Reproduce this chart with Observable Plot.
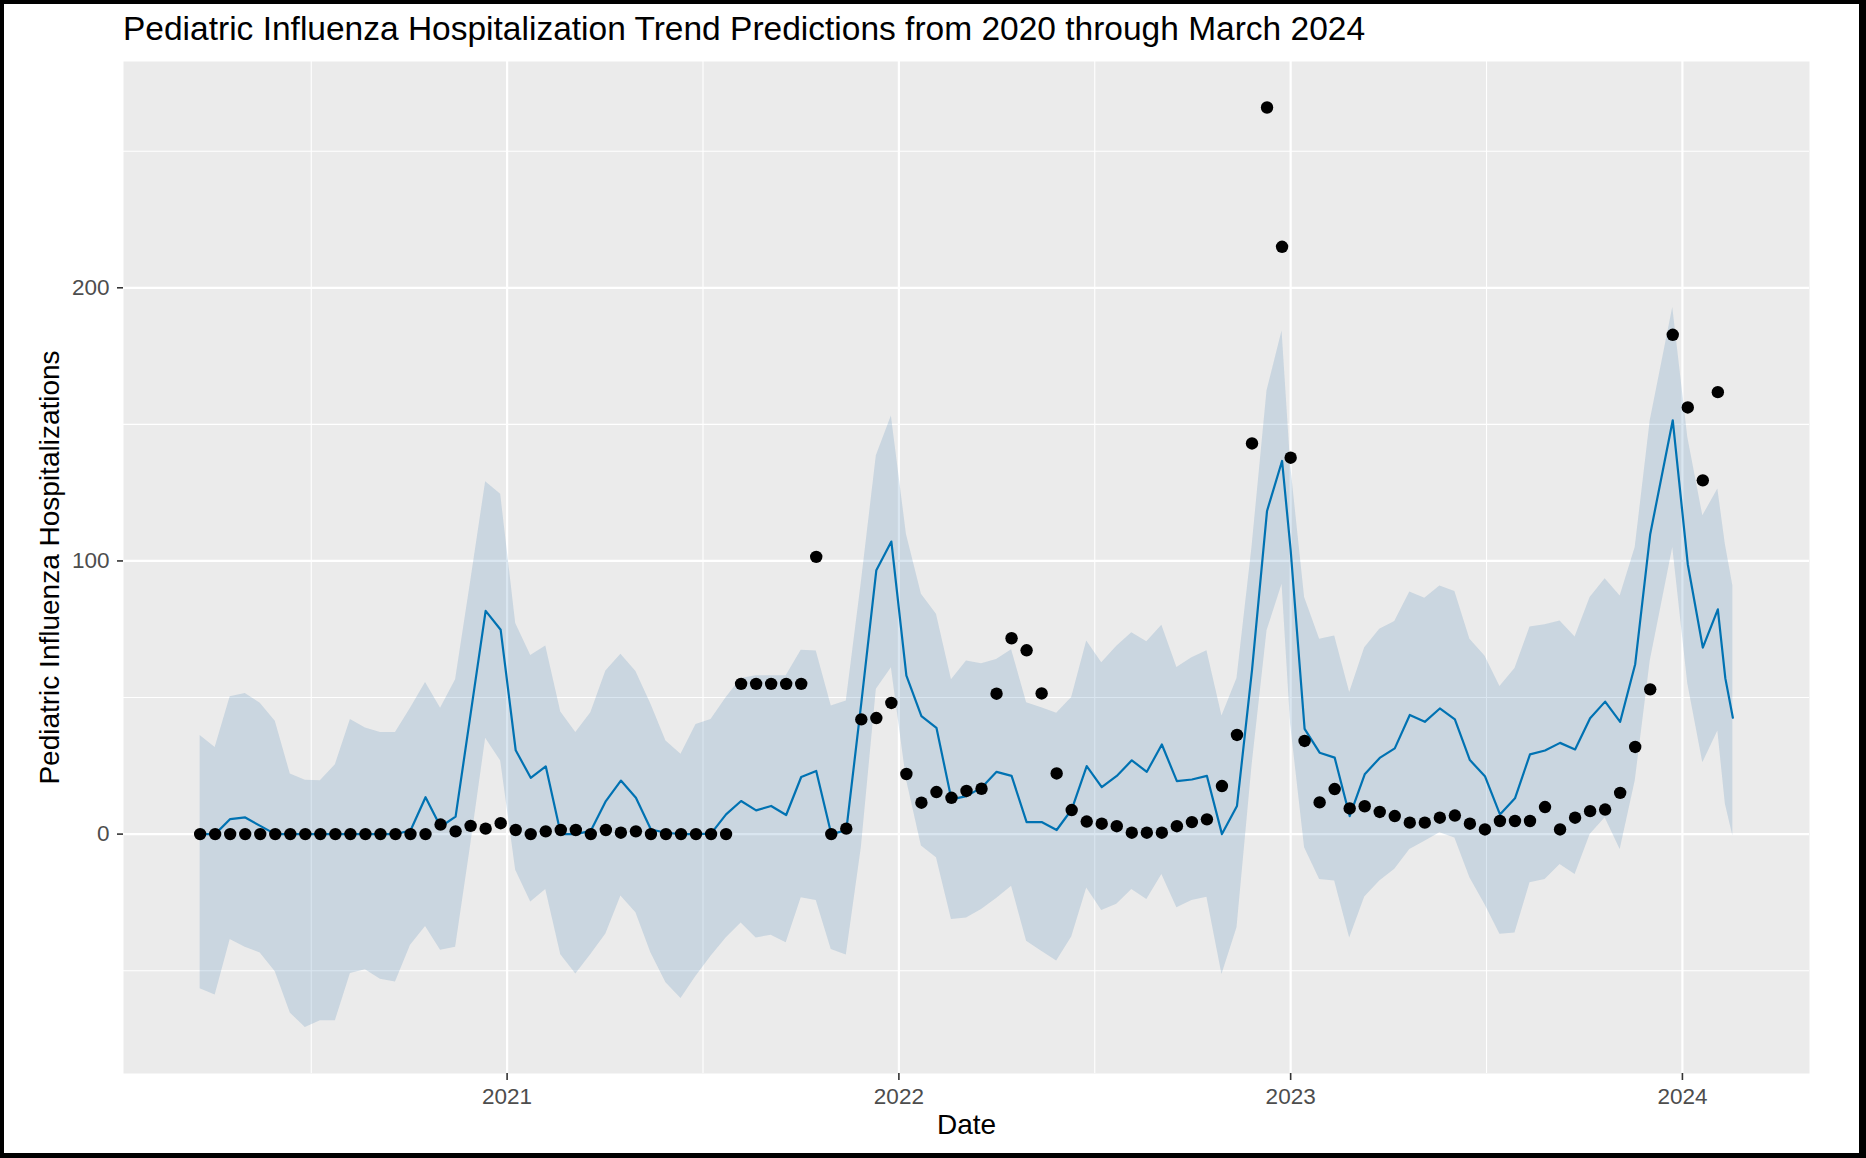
<!DOCTYPE html>
<html>
<head>
<meta charset="utf-8">
<script src="https://cdn.jsdelivr.net/npm/d3@7"></script>
<script src="https://cdn.jsdelivr.net/npm/@observablehq/plot@0.6"></script>
<style>
html, body { margin: 0; padding: 0; background: #fff; overflow: hidden; }
#page { position: relative; width: 1866px; height: 1158px; font-family: "Liberation Sans", Arial, Helvetica, sans-serif; }
#title { position: absolute; left: 123px; top: 12px; font-size: 33.5px; line-height: 33.5px; color: #000; white-space: nowrap; }
#chart { position: absolute; left: 0; top: 52px; }
#border { position: absolute; left: 0; top: 0; width: 1866px; height: 1158px; box-sizing: border-box; border-style: solid; border-color: #000; border-width: 4px 7px 5px 4px; pointer-events: none; }
</style>
</head>
<body>
<div id="page">
  <div id="title">Pediatric Influenza Hospitalization Trend Predictions from 2020 through March 2024</div>
  <div id="chart"></div>
  <div id="border"></div>
</div>
<script>
// ---- data ----
const dates = [
  "2020-03-21","2020-04-04","2020-04-18","2020-05-02","2020-05-16","2020-05-30","2020-06-13","2020-06-27","2020-07-11","2020-07-25",
  "2020-08-08","2020-08-22","2020-09-05","2020-09-19","2020-10-03","2020-10-17","2020-10-31","2020-11-14","2020-11-28","2020-12-12",
  "2020-12-26","2021-01-09","2021-01-23","2021-02-06","2021-02-20","2021-03-06","2021-03-20","2021-04-03","2021-04-17","2021-05-01",
  "2021-05-15","2021-05-29","2021-06-12","2021-06-26","2021-07-10","2021-07-24","2021-08-07","2021-08-21","2021-09-04","2021-09-18",
  "2021-10-02","2021-10-16","2021-10-30","2021-11-13","2021-11-27","2021-12-11","2021-12-25","2022-01-08","2022-01-22","2022-02-05",
  "2022-02-19","2022-03-05","2022-03-19","2022-04-02","2022-04-16","2022-04-30","2022-05-14","2022-05-28","2022-06-11","2022-06-25",
  "2022-07-09","2022-07-23","2022-08-06","2022-08-20","2022-09-03","2022-09-17","2022-10-01","2022-10-15","2022-10-29","2022-11-12",
  "2022-11-26","2022-12-10","2022-12-24",
  "2023-01-01",
  "2023-01-14","2023-01-28","2023-02-11","2023-02-25","2023-03-11","2023-03-25","2023-04-08","2023-04-22","2023-05-06","2023-05-20",
  "2023-06-03","2023-06-17","2023-07-01","2023-07-15","2023-07-29","2023-08-12","2023-08-26","2023-09-09","2023-09-23","2023-10-07",
  "2023-10-21","2023-11-04","2023-11-18","2023-12-02",
  "2023-12-23","2024-01-06","2024-01-20","2024-02-03","2024-02-10","2024-02-17"
];

// observed hospitalizations (black points); null = forecast only
const observed = [
  0,0,0,0,0,0,0,0,0,0,
  0,0,0,0,0,0,3.5,1,3,2,
  4,1.5,0,1,1.5,1.5,0,1.5,0.5,1,
  0,0,0,0,0,0,55,55,55,55,
  55,101.5,0,2,42,42.5,48,22,11.5,15.4,
  13.3,15.8,16.6,51.4,71.7,67.3,51.5,22.2,8.8,4.6,
  3.8,2.9,0.5,0.5,0.5,2.9,4.4,5.4,17.6,36.3,
  143,266,215,
  137.8,
  34.1,11.6,16.5,9.4,10.2,8.1,6.6,4.2,4.2,6.0,
  6.8,3.8,1.7,4.8,4.8,4.8,9.9,1.7,6.0,8.4,
  9.0,15.1,31.9,53.0,
  182.8,156.2,129.5,161.8,null,null
];

// predicted trend (blue line)
const yhat = [
  0,0,5.5,6.1,3,0,0,0,0,0,
  0,0,0,0,1.3,13.5,2.7,6.4,44,81.7,
  74.8,30.7,20.6,24.8,0,0,1.2,12.1,19.6,13.3,
  1.7,0.5,0,0,0.2,7.2,12.1,8.7,10.3,7,
  20.9,23.1,0,1.4,48,96.6,107.1,58,43.2,38.9,
  12.7,13.9,17,22.8,21.3,4.4,4.4,1.5,9,24.9,
  17.2,21.3,27,22.8,32.8,19.4,20,21.3,0,10.3,
  60,118.3,136.6,
  104,
  38.5,29.8,28.0,6.6,21.9,27.9,31.4,43.6,41.1,46.0,
  42.0,27.1,21.2,7.2,13.1,29.2,30.6,33.4,31.0,42.4,
  48.5,41.1,62.2,109.8,
  151.5,98.8,68.3,82.3,57,42.6
];

// uncertainty interval (shaded band)
const yhatUpper = [
  36.1,31.7,50.3,51.5,47.9,41.3,22,19.7,19.5,25.4,
  42,38.8,37.2,37.2,46.1,55.5,46.1,56.5,92.3,129,
  124.4,77.1,65.4,68.9,44.7,37.2,44.4,59.7,65.8,59.5,
  47.5,34.1,29.2,40.1,42,49.9,57,58,58,58,
  67.3,67,46.9,48.7,92,138.5,153.1,109.8,87.8,80.5,
  56.5,63.4,62.4,63.9,67.5,48.1,46.3,44.2,50,70.7,
  62.7,68.8,73.7,70.4,76.5,61,64.6,67.1,43.2,57,
  105,162.3,184.2,
  135,
  86.6,71.3,72.5,51.8,68.2,75.0,77.8,88.6,86.3,90.8,
  88.8,71.3,65.2,54,60.6,75.8,76.6,78.0,72.2,86.6,
  93.5,87.2,104.9,151.3,
  192.8,145.2,116.5,126.3,106,90.8
];

const yhatLower = [
  -56.6,-58.9,-38.6,-41.4,-43.5,-50.4,-65.5,-70.8,-68.3,-68.3,
  -51,-49.7,-53.1,-54.1,-40.7,-33.8,-42.5,-41.4,-4.2,35.1,
  26.8,-13.2,-24.9,-20.3,-44.2,-51.2,-44.1,-36.6,-22.7,-28.8,
  -43.5,-54.4,-60.2,-52,-44.7,-38,-32.5,-38,-37,-39.8,
  -23.3,-24.3,-42.2,-44.3,-5,53,60.9,20,-4.4,-8.7,
  -31.3,-30.7,-27.6,-23.6,-19.1,-39.2,-42.9,-46.5,-37.7,-19.7,
  -28,-25.7,-20.3,-23.9,-14.8,-27,-24.3,-23.1,-51.4,-34.3,
  25,74.4,91.5,
  40,
  -5.0,-16.6,-17.2,-38.0,-23,-17.2,-12.9,-5.6,-2.6,0.5,
  -1.4,-16.0,-25.8,-36.7,-36.2,-17.8,-16.6,-11.1,-14.8,-0.1,
  6.0,-5.6,19.4,63.4,
  104.9,55,26.1,37.7,11,-0.7
];

// axis breaks and labels
const xTickDates = ["2021-01-01","2022-01-01","2023-01-01","2024-01-01"];
const xTickLabels = ["2021","2022","2023","2024"];
const xMinorDates = ["2020-07-02T12:00:00Z","2021-07-02T12:00:00Z","2022-07-02T12:00:00Z","2023-07-02T12:00:00Z"];
const yTicks = [0, 100, 200];
const yMinor = [-50, 50, 150, 250];

// ---- build ----
const parse = s => new Date(s.length === 10 ? s + "T00:00:00Z" : s);
const rows = dates.map((d, i) => ({
  date: parse(d), y: observed[i], yhat: yhat[i], lo: yhatLower[i], hi: yhatUpper[i]
}));
const majorX = xTickDates.map(parse);
const minorX = xMinorDates.map(parse);

// ggplot-style 5% expansion of the data range
const ext = d3.extent(rows, d => d.date);
const span = ext[1] - ext[0];
const xDomain = [new Date(+ext[0] - 0.05 * span), new Date(+ext[1] + 0.05 * span)];
const allY = [...observed.filter(v => v != null), ...yhat, ...yhatLower, ...yhatUpper];
const [ymin, ymax] = d3.extent(allY);
const ys = ymax - ymin;
const yDomain = [ymin - 0.05 * ys, ymax + 0.05 * ys];

const font = '"Liberation Sans", Arial, Helvetica, sans-serif';

const chart = Plot.plot({
  width: 1866,
  height: 1106,
  marginLeft: 123,
  marginRight: 57,
  marginTop: 9,
  marginBottom: 85,
  style: { fontFamily: font, background: "transparent", overflow: "visible" },
  x: { type: "utc", domain: xDomain },
  y: { domain: yDomain },
  marks: [
    Plot.frame({ fill: "#EBEBEB", stroke: "none" }),
    Plot.ruleY(yMinor, { stroke: "#ffffff", strokeWidth: 1.1 }),
    Plot.ruleX(minorX, { stroke: "#ffffff", strokeWidth: 1.1 }),
    Plot.ruleY(yTicks, { stroke: "#ffffff", strokeWidth: 2.2 }),
    Plot.ruleX(majorX, { stroke: "#ffffff", strokeWidth: 2.2 }),
    Plot.areaY(rows, { x: "date", y1: "lo", y2: "hi", fill: "steelblue", fillOpacity: 0.2 }),
    Plot.lineY(rows, { x: "date", y: "yhat", stroke: "#0072B2", strokeWidth: 2.2 }),
    Plot.dot(rows.filter(d => d.y != null), { x: "date", y: "y", r: 6.2, fill: "#000000", stroke: "none" }),
    Plot.axisX({
      ticks: majorX,
      tickFormat: d => xTickLabels[majorX.findIndex(m => +m === +d)],
      tickSize: 7, tickPadding: 8, fontSize: 22.5,
      stroke: "#333333", fill: "#4D4D4D", strokeWidth: 1.6, label: null
    }),
    Plot.axisY({
      ticks: yTicks, tickSize: 6, tickPadding: 8, fontSize: 22.5,
      stroke: "#333333", fill: "#4D4D4D", strokeWidth: 1.6, label: null
    }),
    Plot.text(["Date"], { text: d => d, frameAnchor: "bottom", lineAnchor: "middle", textAnchor: "middle", dy: 52, fontSize: 28, fill: "#000" }),
    Plot.text(["Pediatric Influenza Hospitalizations"], { text: d => d, frameAnchor: "left", lineAnchor: "middle", textAnchor: "middle", rotate: -90, dx: -73, fontSize: 28, fill: "#000" })
  ]
});
document.getElementById("chart").appendChild(chart);
</script>
</body>
</html>
